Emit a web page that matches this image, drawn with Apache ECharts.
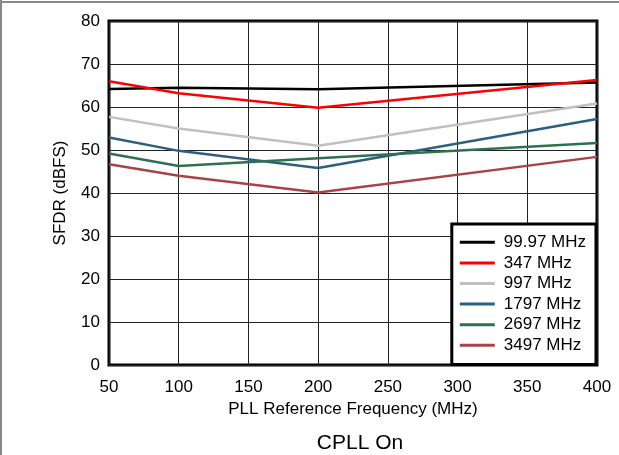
<!DOCTYPE html>
<html>
<head>
<meta charset="utf-8">
<script src="https://cdn.jsdelivr.net/npm/echarts@6/dist/echarts.min.js"></script>
<style>
html,body{margin:0;padding:0;background:#fff;}
#c{width:619px;height:455px;}
</style>
</head>
<body>
<div id="c"></div>
<script>
var xValues = [50, 100, 200, 400];
var seriesNames = ['99.97 MHz', '347 MHz', '997 MHz', '1797 MHz', '2697 MHz', '3497 MHz'];
var s99 = [64.2, 64.5, 64.1, 65.7];
var s347 = [66.0, 63.2, 59.8, 66.3];
var s997 = [57.7, 55.0, 51.0, 60.8];
var s1797 = [52.9, 49.8, 45.8, 57.2];
var s2697 = [49.2, 46.3, 48.1, 51.6];
var s3497 = [46.7, 44.0, 40.1, 48.4];
var seriesColors = ['#000000', '#ff0000', '#c0c0c0', '#2f5f7f', '#2f7050', '#a84448'];
var allValues = [s99, s347, s997, s1797, s2697, s3497];

var font = '"Liberation Sans", Arial, sans-serif';
var chart = echarts.init(document.getElementById('c'), null, {renderer: 'canvas'});

var series = seriesNames.map(function (name, i) {
  return {
    name: name,
    type: 'line',
    data: xValues.map(function (x, j) { return [x, allValues[i][j]]; }),
    showSymbol: false,
    symbol: 'none',
    lineStyle: {color: seriesColors[i], width: 2.5},
    itemStyle: {color: seriesColors[i]},
    animation: false
  };
});

chart.setOption({
  animation: false,
  backgroundColor: '#fff',
  title: {
    text: 'CPLL On',
    left: 355, top: 428, textAlign: 'center',
    textStyle: {fontFamily: font, fontSize: 21, fontWeight: 'normal', color: '#000'}
  },
  grid: {
    left: 109, right: 22, top: 21, bottom: 90,
    show: true, borderColor: '#000', borderWidth: 3, backgroundColor: 'transparent'
  },
  legend: {
    data: seriesNames,
    orient: 'vertical',
    right: 23, top: 224,
    padding: [8, 10, 9, 8],
    backgroundColor: '#fff',
    borderColor: '#000', borderWidth: 3,
    icon: 'rect',
    itemWidth: 35, itemHeight: 3,
    itemGap: 0,
    textStyle: {fontFamily: font, fontSize: 17, color: '#000', lineHeight: 20.6, padding: [0, 0, 0, 4]}
  },
  xAxis: {
    type: 'value', min: 50, max: 400, interval: 50,
    name: 'PLL Reference Frequency (MHz)', nameLocation: 'middle', nameGap: 31,
    nameTextStyle: {fontFamily: font, fontSize: 17, color: '#000'},
    axisLine: {show: false}, axisTick: {show: false},
    axisLabel: {fontFamily: font, fontSize: 17, color: '#000', margin: 14},
    splitLine: {show: true, lineStyle: {color: '#222', width: 1}}
  },
  yAxis: {
    type: 'value', min: 0, max: 80, interval: 10,
    name: 'SFDR (dBFS)', nameLocation: 'middle', nameGap: 40,
    nameTextStyle: {fontFamily: font, fontSize: 17, color: '#000'},
    axisLine: {show: false}, axisTick: {show: false},
    axisLabel: {fontFamily: font, fontSize: 17, color: '#000', margin: 9},
    splitLine: {show: true, lineStyle: {color: '#222', width: 1}}
  },
  graphic: [
    {type: 'line', shape: {x1: 0, y1: 2, x2: 619, y2: 2}, style: {stroke: '#888', lineWidth: 2}},
    {type: 'line', shape: {x1: 1, y1: 0, x2: 1, y2: 455}, style: {stroke: '#888', lineWidth: 2}}
  ],
  series: series
});
</script>
</body>
</html>
